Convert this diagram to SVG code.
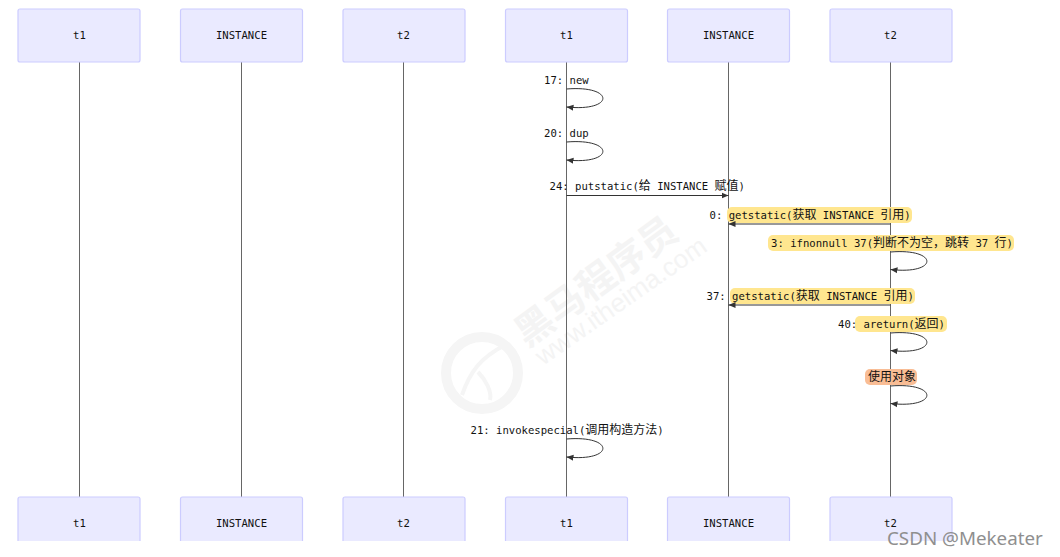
<svg xmlns="http://www.w3.org/2000/svg" width="1060" height="557" viewBox="0 0 1060 557">
<style>
.box{fill:#eaeaff;stroke:#ccccff;stroke-width:1.2}
.t{font-family:"DejaVu Sans Mono","Noto Sans CJK SC",monospace;font-size:10.6px;fill:#111}
.c{font-size:12px}
.m{text-anchor:middle}
.life{stroke:#666;stroke-width:1;fill:none}
.msg{stroke:#333;stroke-width:1;fill:none}
.y{fill:#ffe68f}
.o{fill:#f9bd95}
.wm{font-family:"Noto Sans CJK SC",sans-serif;fill:#f4f4f4}
</style>
<defs>
<marker id="a" markerWidth="8" markerHeight="8" refX="7" refY="4" orient="auto" markerUnits="userSpaceOnUse"><path d="M0,1L7,4L0,7Z" fill="#333"/></marker>
</defs>
<rect width="1060" height="557" fill="#fff"/>
<g id="watermark">
<circle cx="482" cy="373" r="36" fill="none" stroke="#f5f5f5" stroke-width="10"/>
<path d="M462,395C470,372 480,358 505,345M478,372C486,380 492,392 490,400" fill="none" stroke="#f5f5f5" stroke-width="4"/>
<text class="wm" font-size="38" font-weight="700" transform="translate(527,348) rotate(-36)">黑马程序员</text>
<text class="wm" font-size="26" style="font-family:'Liberation Sans',sans-serif" transform="translate(543,366) rotate(-35)">www.itheima.com</text>
</g>
<g id="lifelines">
<path class="life" d="M79.5,62V497M241.5,62V497M403.5,62V497M566.5,62V497M728.5,62V497M890.5,62V497"/>
</g>
<g id="t1-top"><rect class="box" x="18" y="9" width="122" height="53" rx="2"/><text class="t m" x="79.5" y="39">t1</text></g>
<g id="instance-top"><rect class="box" x="180.500" y="9" width="122" height="53" rx="2"/><text class="t m" x="241.500" y="39">INSTANCE</text></g>
<g id="t2-top"><rect class="box" x="343" y="9" width="122" height="53" rx="2"/><text class="t m" x="403.500" y="39">t2</text></g>
<g id="t1b-top"><rect class="box" x="505.500" y="9" width="122" height="53" rx="2"/><text class="t m" x="566.500" y="39">t1</text></g>
<g id="instanceb-top"><rect class="box" x="667.500" y="9" width="122" height="53" rx="2"/><text class="t m" x="728.500" y="39">INSTANCE</text></g>
<g id="t2b-top"><rect class="box" x="830" y="9" width="122" height="53" rx="2"/><text class="t m" x="890.500" y="39">t2</text></g>
<g id="t1-bottom"><path class="box" d="M18,541V499a2,2 0 0 1 2,-2H138a2,2 0 0 1 2,2V541"/><text class="t m" x="79.500" y="527">t1</text></g>
<g id="instance-bottom"><path class="box" d="M180.500,541V499a2,2 0 0 1 2,-2H300.500a2,2 0 0 1 2,2V541"/><text class="t m" x="241.500" y="527">INSTANCE</text></g>
<g id="t2-bottom"><path class="box" d="M343,541V499a2,2 0 0 1 2,-2H463a2,2 0 0 1 2,2V541"/><text class="t m" x="403.500" y="527">t2</text></g>
<g id="t1b-bottom"><path class="box" d="M505.500,541V499a2,2 0 0 1 2,-2H625.500a2,2 0 0 1 2,2V541"/><text class="t m" x="566.500" y="527">t1</text></g>
<g id="instanceb-bottom"><path class="box" d="M667.500,541V499a2,2 0 0 1 2,-2H787.500a2,2 0 0 1 2,2V541"/><text class="t m" x="728.500" y="527">INSTANCE</text></g>
<g id="t2b-bottom"><path class="box" d="M830,541V499a2,2 0 0 1 2,-2H950a2,2 0 0 1 2,2V541"/><text class="t m" x="890.500" y="527">t2</text></g>
<g id="highlights">
<rect class="y" x="727" y="207" width="185" height="16" rx="5"/>
<rect class="y" x="768" y="235" width="246" height="16" rx="5"/>
<rect class="y" x="730" y="288" width="185" height="16" rx="5"/>
<rect class="y" x="855" y="316" width="92" height="16" rx="5"/>
<rect class="o" x="865" y="369" width="52" height="16" rx="5"/>
</g>
<g id="connectors">
<path class="msg" marker-end="url(#a)" d="M566.500,89C615,85 615,112 566.500,107"/>
<path class="msg" marker-end="url(#a)" d="M566.500,142C615,138 615,165 566.500,160"/>
<line class="msg" marker-end="url(#a)" x1="566.500" y1="195.500" x2="728.500" y2="195.500"/>
<line class="msg" marker-end="url(#a)" x1="890.500" y1="224" x2="728.500" y2="224"/>
<path class="msg" marker-end="url(#a)" d="M890.500,252C939,248 939,275 890.500,269.500"/>
<line class="msg" marker-end="url(#a)" x1="890.500" y1="305" x2="728.500" y2="305"/>
<path class="msg" marker-end="url(#a)" d="M890.500,333C939,329 939,356 890.500,350.500"/>
<path class="msg" marker-end="url(#a)" d="M890.500,386C939,382 939,409 890.500,403.500"/>
<path class="msg" marker-end="url(#a)" d="M566.500,439C615,435 615,462 566.500,457"/>
</g>
<g id="labels">
<text class="t" x="544" y="84">17: new</text>
<text class="t" x="544" y="137">20: dup</text>
<text class="t" x="549.500" y="190">24: putstatic(<tspan class="c">给</tspan> INSTANCE <tspan class="c">赋值</tspan>)</text>
<text class="t" x="709.500" y="219">0: getstatic(<tspan class="c">获取</tspan> INSTANCE <tspan class="c">引用</tspan>)</text>
<text class="t" x="771" y="247">3: ifnonnull 37(<tspan class="c">判断不为空，跳转</tspan> 37 <tspan class="c">行</tspan>)</text>
<text class="t" x="706.500" y="300">37: getstatic(<tspan class="c">获取</tspan> INSTANCE <tspan class="c">引用</tspan>)</text>
<text class="t" x="838" y="328">40: areturn(<tspan class="c">返回</tspan>)</text>
<text class="t c" x="868" y="381">使用对象</text>
<text class="t" x="470.500" y="434">21: invokespecial(<tspan class="c">调用构造方法</tspan>)</text>
</g>
<text x="887" y="545" style="font-family:'Noto Sans',sans-serif;font-size:18.800px;fill:#8f8f8f">CSDN @Mekeater</text>
</svg>
